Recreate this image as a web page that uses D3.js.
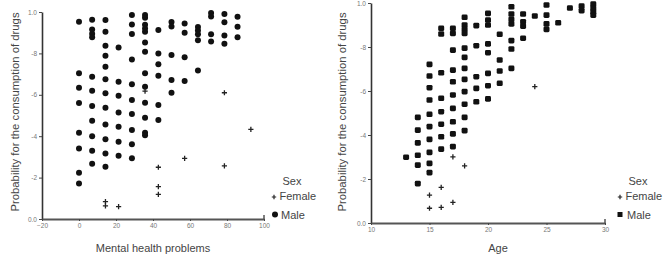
<!doctype html>
<html lang="en">
<head>
<meta charset="UTF-8">
<title>Probability for the consumption of drugs</title>
<script src="https://cdn.jsdelivr.net/npm/d3@7/dist/d3.min.js"></script>
<style>
    body { margin: 0; background: #fff; }
    svg { display: block; font-family: "Liberation Sans", Arial, sans-serif; }
    .tick text { fill: #777; font-size: 6.5px; }
    .tick line { stroke: #444; }
    .domain { stroke: #333; stroke-width: 1.6px; }
    .title { fill: #444; font-size: 11px; }
    .ytitle { font-size: 11.3px; }
    .legend { fill: #444; font-size: 11px; }
</style>
</head>
<body>
<div id="chart"></div>
<script>
// y ticks, labels as printed in the figure
const yTicks = [0, 0.2, 0.4, 0.6, 0.8, 1.0]
const yTickLabels = ["0.0", "-2", "-4", "-6", "-8", "1.0"]

// left panel: mental health problems
const mentalTicks = [-20, 0, 20, 40, 60, 80, 100]
const mentalMale = [
    [0, [0.953, 0.704, 0.634, 0.560, 0.417, 0.341, 0.224, 0.172]],
    [7.1, [0.963, 0.915, 0.895, 0.878, 0.687, 0.620, 0.546, 0.475, 0.400, 0.330, 0.267]],
    [14.3, [0.961, 0.905, 0.837, 0.789, 0.736, 0.675, 0.607, 0.538, 0.457, 0.385, 0.317, 0.253]],
    [21.4, [0.828, 0.663, 0.596, 0.515, 0.446, 0.373, 0.306]],
    [28.6, [0.986, 0.940, 0.894, 0.771, 0.651, 0.575, 0.507, 0.430, 0.361, 0.293]],
    [35.7, [0.985, 0.972, 0.938, 0.920, 0.905, 0.853, 0.808, 0.704, 0.639, 0.562, 0.489, 0.417, 0.405]],
    [42.9, [0.913, 0.800, 0.747, 0.692, 0.551, 0.478]],
    [50, [0.952, 0.930, 0.792, 0.672, 0.610]],
    [57.1, [0.945, 0.900, 0.781, 0.667]],
    [64.3, [0.928, 0.911, 0.893, 0.863, 0.717]],
    [71.4, [0.995, 0.978, 0.893, 0.858]],
    [78.6, [0.990, 0.950, 0.886, 0.847]],
    [85.7, [0.977, 0.929, 0.878]]
]
const mentalFemale = [
    [14.3, [0.084, 0.063]],
    [21.4, [0.060]],
    [35.7, [0.618]],
    [42.9, [0.250, 0.156, 0.119]],
    [57.1, [0.293]],
    [78.6, [0.610, 0.257]],
    [92.9, [0.433]]
]

// right panel: age
const ageTicks = [10, 15, 20, 25, 30]
const ageMale = [
    [13, [0.299]],
    [14, [0.480, 0.422, 0.364, 0.308, 0.263, 0.179]],
    [15, [0.721, 0.668, 0.615, 0.559, 0.494, 0.438, 0.380, 0.321, 0.271, 0.229]],
    [16, [0.885, 0.859, 0.683, 0.567, 0.506, 0.449, 0.392, 0.336]],
    [17, [0.885, 0.862, 0.786, 0.695, 0.642, 0.582, 0.521, 0.460, 0.405, 0.347]],
    [18, [0.935, 0.900, 0.880, 0.862, 0.795, 0.753, 0.703, 0.653, 0.597, 0.540, 0.480, 0.420]],
    [19, [0.897, 0.806, 0.665, 0.612, 0.551]],
    [20, [0.953, 0.923, 0.900, 0.814, 0.774, 0.680, 0.624, 0.564]],
    [21, [0.858, 0.741, 0.691, 0.635]],
    [22, [0.983, 0.950, 0.926, 0.905, 0.829, 0.791, 0.703]],
    [23, [0.950, 0.915, 0.895, 0.840]],
    [24, [0.941]],
    [25, [0.991, 0.945, 0.905, 0.880]],
    [26, [0.910]],
    [27, [0.977]],
    [28, [0.986, 0.965]],
    [29, [0.995, 0.977, 0.960, 0.945]]
]
const ageFemale = [
    [15, [0.127, 0.067]],
    [16, [0.162, 0.071]],
    [17, [0.301, 0.094]],
    [18, [0.260]],
    [24, [0.620]]
]

const sexLabels = ["Female", "Male"]

const width = 665, height = 258
const svg = d3.select("#chart").append("svg")
    .attr("width", width).attr("height", height)

// flatten [x, [y...]] columns into points
function flat(cols) {
    let pts = []
    cols.forEach(c => c[1].forEach(v => pts.push({x: c[0], y: v})))
    return pts
}

const plusPath = "M-2.6,0H2.6M0,-2.6V2.6"
const smallPlus = "M-2.2,0H2.2M0,-2.2V2.2"

function drawPanel(opt) {
    let x = d3.scaleLinear().domain(opt.xDomain).range(opt.xRange)
    let y = d3.scaleLinear().domain([0, 1]).range(opt.yRange)
    let g = svg.append("g")

    let yAxis = d3.axisLeft(y).tickValues(yTicks)
        .tickFormat((d, i) => yTickLabels[i]).tickSize(3).tickSizeOuter(0).tickPadding(2)
    g.append("g").attr("transform", `translate(${opt.xRange[0]},0)`).call(yAxis)

    let xAxis = d3.axisBottom(x).tickValues(opt.xTicks).tickSize(2).tickSizeOuter(0).tickPadding(2)
    let xg = g.append("g").attr("transform", `translate(0,${opt.yRange[0]})`).call(xAxis)
    xg.select(".domain").style("stroke", "#555").style("stroke-width", "2px")
    // small upturned end of the x axis
    xg.append("line").attr("x1", opt.xRange[1]).attr("x2", opt.xRange[1])
        .attr("y1", 0).attr("y2", -4).attr("stroke", "#555").attr("stroke-width", 1.5)

    // male
    if (opt.square) {
        g.selectAll(".male").data(flat(opt.male)).join("rect")
            .attr("x", d => x(d.x) - 3).attr("y", d => y(d.y) - 2.8)
            .attr("width", 6).attr("height", 5.6).attr("rx", 1.4)
            .attr("fill", "#111")
    } else {
        g.selectAll(".male").data(flat(opt.male)).join("circle")
            .attr("cx", d => x(d.x)).attr("cy", d => y(d.y)).attr("r", 3)
            .attr("fill", "#111")
    }
    // female
    g.selectAll(".female").data(flat(opt.female)).join("path")
        .attr("d", plusPath)
        .attr("transform", d => `translate(${x(d.x)},${y(d.y)})`)
        .attr("stroke", "#222").attr("stroke-width", 1.3).attr("fill", "none")

    // titles
    g.append("text").attr("class", "title")
        .attr("x", (opt.xRange[0] + opt.xRange[1]) / 2 + opt.titleShift).attr("y", 252)
        .attr("text-anchor", "middle").text(opt.xTitle)
    g.append("text").attr("class", "title ytitle")
        .attr("transform", `translate(${opt.yTitleX},112) rotate(-90)`)
        .attr("text-anchor", "middle").text("Probability for the consumption of drugs")

    // legend
    let lg = g.append("g")
    lg.append("text").attr("class", "legend").attr("x", opt.legendX + 18).attr("y", 185)
        .attr("text-anchor", "middle").text("Sex")
    lg.append("path").attr("d", smallPlus)
        .attr("transform", `translate(${opt.legendX},197)`)
        .attr("stroke", "#222").attr("stroke-width", 1.2)
    lg.append("text").attr("class", "legend").attr("x", opt.legendX + 5.5).attr("y", 200).text(sexLabels[0])
    if (opt.square) {
        lg.append("rect").attr("x", opt.legendX - 2.5).attr("y", 212).attr("width", 5).attr("height", 5)
            .attr("fill", "#111")
    } else {
        lg.append("circle").attr("cx", opt.legendX + 1).attr("cy", 214.5).attr("r", 3).attr("fill", "#111")
    }
    lg.append("text").attr("class", "legend").attr("x", opt.legendX + 7).attr("y", 219).text(sexLabels[1])
}

drawPanel({
    xDomain: [-20, 100], xRange: [42, 264], yRange: [219, 12],
    xTicks: mentalTicks, male: mentalMale, female: mentalFemale,
    xTitle: "Mental health problems", titleShift: 0, yTitleX: 19,
    legendX: 274, square: false
})

drawPanel({
    xDomain: [10, 30], xRange: [371, 605], yRange: [223, 3],
    xTicks: ageTicks, male: ageMale, female: ageFemale,
    xTitle: "Age", titleShift: 10, yTitleX: 346,
    legendX: 620, square: true
})
</script>
</body>
</html>
